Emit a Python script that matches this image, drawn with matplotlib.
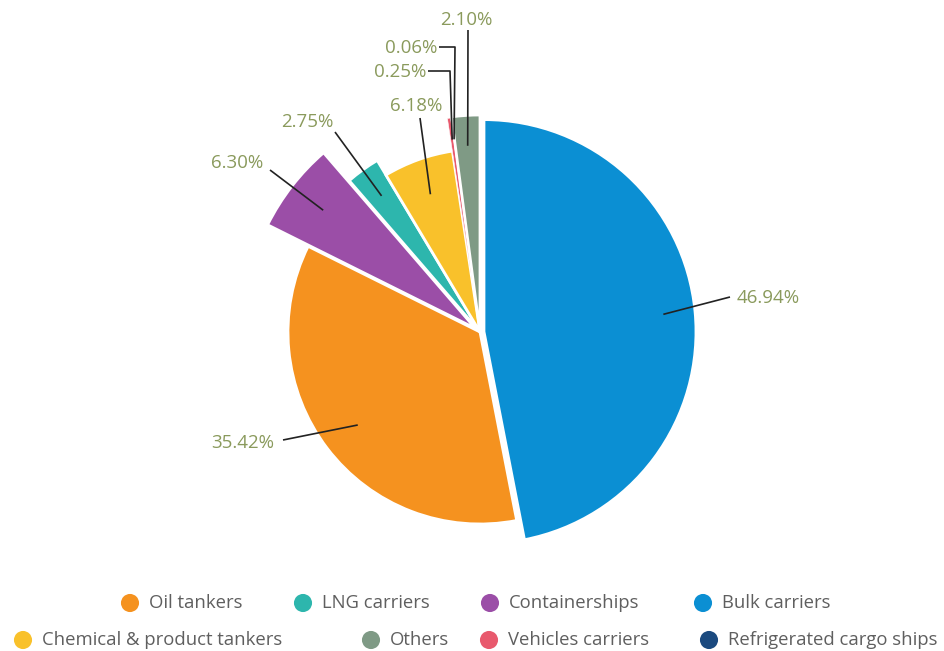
import matplotlib.pyplot as plt
import numpy as np

plt.rcParams['font.family'] = ['Open Sans', 'DejaVu Sans']

# fleet share by ship type, clockwise from 12 o'clock
types = ['Bulk carriers', 'Oil tankers', 'Containerships', 'LNG carriers',
         'Chemical & product tankers', 'Vehicles carriers',
         'Refrigerated cargo ships', 'Others']
shares = [46.94, 35.42, 6.30, 2.75, 6.18, 0.25, 0.06, 2.10]
colors = ['#0b8fd3', '#f5921f', '#9b4ea7', '#2db6ad', '#f9c12b', '#e8596d',
          '#1b4a7f', '#7f9a85']
radii = [1.06, 0.96, 1.16, 1.0, 0.915, 1.08, 1.08, 1.085]
explode = [0.02, 0.0, 0.03, 0.0, 0.0, 0.0, 0.0, 0.0]

# legend rows, in the order they are read
legend_rows = [
    ['Oil tankers', 'LNG carriers', 'Containerships', 'Bulk carriers'],
    ['Chemical & product tankers', 'Others', 'Vehicles carriers',
     'Refrigerated cargo ships'],
]
legend_x = [[130, 303, 490, 703], [23, 371, 489, 709]]
legend_y = [603, 640]

W, H = 945, 651
cx, cy, scale = 480, 332, 200.0


def px(x, y):
    return (x - cx) / scale, (cy - y) / scale


fig = plt.figure(figsize=(W / 100, H / 100), dpi=100)
ax = fig.add_axes([0, 0, 1, 1])

wedges, _ = ax.pie(shares, colors=colors, startangle=90, counterclock=False,
                   explode=explode, wedgeprops=dict(edgecolor='white', linewidth=2))
for w, r, v in zip(wedges, radii, shares):
    w.set_radius(r)
    if v < 1:
        # thin slices would vanish under a full white edge
        w.set_linewidth(0.4)

ax.set_xlim(-cx / scale, (W - cx) / scale)
ax.set_ylim(-(H - cy) / scale, cy / scale)
ax.set_aspect('equal', adjustable='datalim')
ax.axis('off')

label_color = '#8a9a5c'
line_color = '#222222'

# callouts: (anchor radius fraction, line end in px, text pos in px, ha)
callouts = {
    'Bulk carriers': (0.85, [(730, 297)], (737, 298), 'left'),
    'Oil tankers': (0.8, [(283, 440)], (274, 443), 'right'),
    'Containerships': (0.83, [(270, 170)], (263, 163), 'right'),
    'LNG carriers': (0.84, [(335, 132)], (307, 122), 'center'),
    'Chemical & product tankers': (0.8, [(420, 118)], (416, 106), 'center'),
    'Vehicles carriers': (0.9, [(450, 71), (428, 71)], (426, 72), 'right'),
    'Refrigerated cargo ships': (0.9, [(455, 47), (439, 47)], (437, 48), 'right'),
    'Others': (0.86, [(468, 30)], (466, 20), 'center'),
}

for w, name, val in zip(wedges, types, shares):
    frac, pts, tpos, ha = callouts[name]
    mid = np.deg2rad((w.theta1 + w.theta2) / 2)
    ox, oy = w.center
    r = w.r * frac
    xs = [ox + r * np.cos(mid)]
    ys = [oy + r * np.sin(mid)]
    for p in pts:
        x, y = px(*p)
        xs.append(x)
        ys.append(y)
    ax.plot(xs, ys, color=line_color, lw=1.2, solid_capstyle='butt')
    tx, ty = px(*tpos)
    ax.text(tx, ty, f'{val:.2f}%', ha=ha, va='center', fontsize=13.5,
            color=label_color)

for row, xs_row, y in zip(legend_rows, legend_x, legend_y):
    for name, x in zip(row, xs_row):
        c = colors[types.index(name)]
        mx, my = px(x, y)
        ax.scatter([mx], [my], s=170, color=c, edgecolor='none')
        tx, _ = px(x + 19, y)
        ax.text(tx, my, name, ha='left', va='center', fontsize=13.3,
                color='#5f5f5f')

fig.savefig('out.png', dpi=100, facecolor='white')
